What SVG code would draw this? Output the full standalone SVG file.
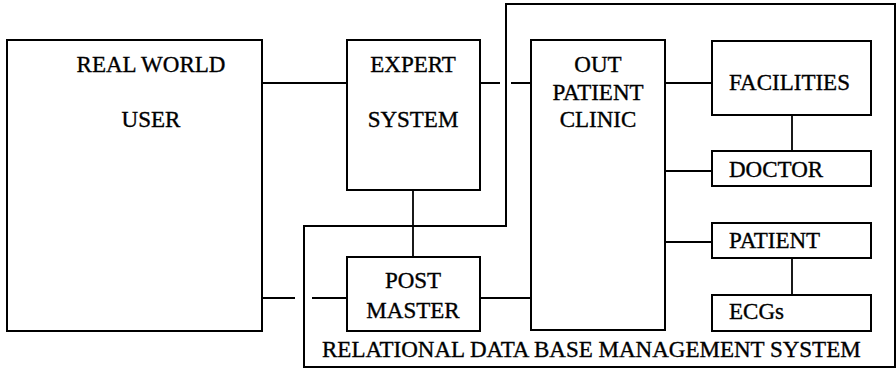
<svg xmlns="http://www.w3.org/2000/svg" width="896" height="368" viewBox="0 0 896 368">
<style>
.box{fill:none;stroke:#000;stroke-width:2}
.ln{fill:none;stroke:#000;stroke-width:1.8}
.t{font-family:"Liberation Serif","DejaVu Serif","Times New Roman",serif;font-size:23px;fill:#000;stroke:#000;stroke-width:0.35}
.c{text-anchor:middle}
</style>
<rect width="896" height="368" fill="#fff"/>
<g id="rdbms">
<path class="box" d="M506,4 H895 V367 H304 V226 H506 Z"/>
<text class="t" x="322" y="357">RELATIONAL DATA BASE MANAGEMENT SYSTEM</text>
</g>
<g id="connectors">
<path class="ln" d="M262,83 H347"/>
<path class="ln" d="M481,83 H500 M511,83 H531"/>
<path class="ln" d="M413,190 V257"/>
<path class="ln" d="M262,298 H295 M312,298 H347"/>
<path class="ln" d="M480,298 H531"/>
<path class="ln" d="M665,83 H712"/>
<path class="ln" d="M665,171 H712"/>
<path class="ln" d="M665,242 H712"/>
<path class="ln" d="M792,115 V151"/>
<path class="ln" d="M792,258 V295"/>
</g>
<g id="real-world-user">
<rect class="box" x="7" y="40" width="255" height="291"/>
<text class="t c" x="151" y="72">REAL WORLD</text>
<text class="t c" x="151" y="127">USER</text>
</g>
<g id="expert-system">
<rect class="box" x="347" y="40" width="133" height="150"/>
<text class="t c" x="413" y="72">EXPERT</text>
<text class="t c" x="413" y="127">SYSTEM</text>
</g>
<g id="post-master">
<rect class="box" x="347" y="257" width="133" height="74"/>
<text class="t c" x="413" y="288">POST</text>
<text class="t c" x="413" y="318">MASTER</text>
</g>
<g id="out-patient-clinic">
<rect class="box" x="531" y="40" width="134" height="290"/>
<text class="t c" x="598" y="72">OUT</text>
<text class="t c" x="598" y="100">PATIENT</text>
<text class="t c" x="598" y="127">CLINIC</text>
</g>
<g id="facilities">
<rect class="box" x="712" y="41" width="159" height="74"/>
<text class="t" x="729" y="90">FACILITIES</text>
</g>
<g id="doctor">
<rect class="box" x="712" y="151" width="159" height="35"/>
<text class="t" x="729" y="177">DOCTOR</text>
</g>
<g id="patient">
<rect class="box" x="712" y="223" width="159" height="35"/>
<text class="t" x="729" y="248">PATIENT</text>
</g>
<g id="ecgs">
<rect class="box" x="712" y="295" width="159" height="36"/>
<text class="t" x="729" y="319">ECGs</text>
</g>
</svg>
